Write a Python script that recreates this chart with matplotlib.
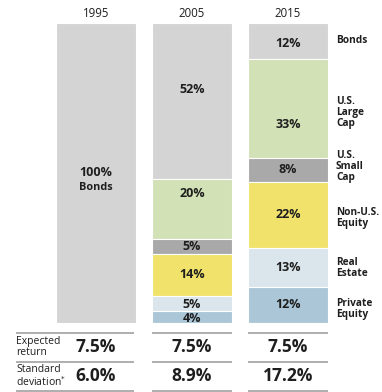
import numpy as np
import matplotlib
matplotlib.use('Agg')
import matplotlib.pyplot as plt

plt.rcParams['font.family'] = ['Open Sans', 'DejaVu Sans']

# data
years = ['1995', '2005', '2015']
assets = ['Bonds', 'U.S.\nLarge\nCap', 'U.S.\nSmall\nCap', 'Non-U.S.\nEquity', 'Real\nEstate', 'Private\nEquity']
alloc_1995 = [100, 0, 0, 0, 0, 0]
alloc_2005 = [52, 20, 5, 14, 5, 4]
alloc_2015 = [12, 33, 8, 22, 13, 12]
exp_return = ['7.5%', '7.5%', '7.5%']
std_dev = ['6.0%', '8.9%', '17.2%']

colors = ['#d4d4d4', '#d2e1b6', '#a9a9a9', '#f0e26a', '#dbe6ec', '#abc7d7']
# nudges of the % labels away from segment middle (in % units)
lab_shift = {(1, 0): -3.7, (1, 1): -5, (2, 1): 5.2, (2, 0): 0.8, (1, 4): 0.4, (1, 5): 0.5}
side_shift = [0, 1.2, -1, 1, 0.3, 1.2]

fig = plt.figure(figsize=(3.82, 3.92), dpi=100)
ax = fig.add_axes([0, 0, 1, 1])
ax.set_xlim(-1, 382 / 96 - 1)
ax.set_ylim((392 - 23) / 3, -23 / 3)
ax.axis('off')

txt = '#1e1e1e'
allocs = [alloc_1995, alloc_2005, alloc_2015]
for i, al in enumerate(allocs):
    cum = 0
    for j, v in enumerate(al):
        if v == 0:
            continue
        ax.bar(i, v, bottom=cum, width=0.84, color=colors[j], edgecolor='white', linewidth=0.8)
        yc = cum + v / 2 + lab_shift.get((i, j), 0)
        ax.text(i, yc, '%d%%' % v, ha='center', va='center', fontsize=9, fontweight='bold', color=txt)
        if i == 0:
            ax.text(i, yc + 5, assets[j], ha='center', va='center', fontsize=7.8, fontweight='bold', color=txt)
        if i == 2:
            ax.text(2.5, cum + v / 2 + side_shift[j], assets[j], ha='left', va='center', fontsize=7.3,
                    fontweight='bold', color=txt, linespacing=1.0)
        cum += v
    ax.text(i, -3.3, years[i], ha='center', va='center', fontsize=8.3, color=txt)

# table lines
for yl in [103.3, 113, 122.7]:
    ax.plot([-0.83, 0.4], [yl, yl], color='#999999', lw=1.1, solid_capstyle='butt')
    ax.plot([0.585, 1.415], [yl, yl], color='#999999', lw=1.1, solid_capstyle='butt')
    ax.plot([1.585, 2.415], [yl, yl], color='#999999', lw=1.1, solid_capstyle='butt')

ax.text(-0.83, 108.1, 'Expected\nreturn', ha='left', va='center', fontsize=7.5, color=txt, linespacing=1.0)
ax.text(-0.83, 117.8, 'Standard\ndeviation$^{*}$', ha='left', va='center', fontsize=7.5, color=txt, linespacing=1.0)
for i in range(3):
    ax.text(i, 108.1, exp_return[i], ha='center', va='center', fontsize=12.5, fontweight='bold', color=txt)
    ax.text(i, 117.8, std_dev[i], ha='center', va='center', fontsize=12.5, fontweight='bold', color=txt)

fig.savefig('out.png', dpi=100, facecolor='white')
